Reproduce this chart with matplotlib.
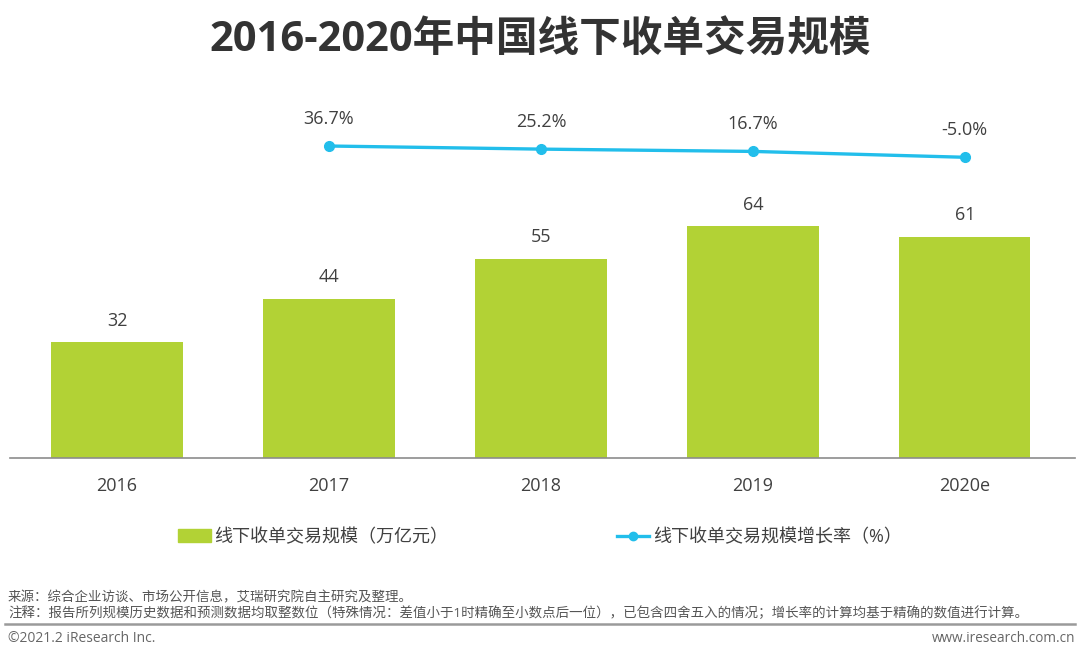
import matplotlib
matplotlib.use("Agg")
import matplotlib.pyplot as plt
from matplotlib.patches import Patch
from matplotlib.lines import Line2D

plt.rcParams['font.family'] = ['Open Sans', 'Noto Sans CJK SC', 'DejaVu Sans']

years = ['2016', '2017', '2018', '2019', '2020e']
scale = [32, 44, 55, 64, 61]            # 万亿元
growth_years = ['2017', '2018', '2019', '2020e']
growth = [36.7, 25.2, 16.7, -5.0]      # %

bar_color = '#B2D235'
line_color = '#22BEEB'
text_color = '#404040'

W, H = 1080, 661
fig = plt.figure(figsize=(W / 100, H / 100), dpi=100)

# main axes in pixel coords
left, right, base, top = 10, 1075, 458, 100
ax = fig.add_axes([left / W, (H - base) / H, (right - left) / W, (base - top) / H])
x = list(range(len(years)))
ax.bar(x, scale, width=0.62, color=bar_color, zorder=2)
for xi, v in zip(x, scale):
    ax.annotate(str(v), (xi, v), xytext=(0, 9), textcoords='offset points',
                ha='center', va='bottom', fontsize=13, color=text_color)
ax.set_xlim(-0.505, 4.52)
ax.set_ylim(0, 98.8)
ax.set_xticks(x)
ax.set_xticklabels(years, fontsize=13, color=text_color)
ax.tick_params(axis='x', length=0, pad=14)
ax.set_yticks([])
for s in ['left', 'right', 'top']:
    ax.spines[s].set_visible(False)
ax.spines['bottom'].set_color('#8c8c8c')
ax.spines['bottom'].set_linewidth(1.2)

# growth line on a compressed secondary axis
ax2 = ax.twinx()
gx = [years.index(y) for y in growth_years]
ax2.plot(gx, growth, color=line_color, lw=2.4, marker='o', ms=7, zorder=3)
for xi, v in zip(gx, growth):
    ax2.annotate(f'{v:.1f}%', (xi, v), xytext=(0, 13), textcoords='offset points',
                 ha='center', va='bottom', fontsize=13, color=text_color)
ax2.set_ylim(-1118, 207)
ax2.axis('off')

# legend
handles = [Patch(color=bar_color),
           Line2D([0], [0], color=line_color, lw=2.4, marker='o', ms=6)]
labels = ['线下收单交易规模（万亿元）', '线下收单交易规模增长率（%）']
leg = fig.legend(handles, labels, loc='center', bbox_to_anchor=(540 / W, (H - 537) / H),
                 ncol=2, frameon=False, fontsize=13, columnspacing=9.3,
                 handlelength=1.8, handletextpad=0.2, labelcolor=text_color)

# title
fig.text(0.5, (H - 41) / H, '2016-2020年中国线下收单交易规模', ha='center', va='center',
         fontsize=30, fontweight='bold', color='#333333')

# footer
fig.text(8 / W, (H - 598) / H, '来源：综合企业访谈、市场公开信息，艾瑞研究院自主研究及整理。',
         fontsize=9.7, color='#555555', va='center', ha='left')
fig.text(8 / W, (H - 613) / H,
         '注释：报告所列规模历史数据和预测数据均取整数位（特殊情况：差值小于1时精确至小数点后一位），已包含四舍五入的情况；增长率的计算均基于精确的数值进行计算。',
         fontsize=9.7, color='#555555', va='center', ha='left')
fig.add_artist(Line2D([5 / W, 1075 / W], [(H - 624) / H] * 2, color='#9a9a9a', lw=1.8))
fig.text(8 / W, (H - 639) / H, '©2021.2 iResearch Inc.', fontsize=10, color='#666666',
         va='center', ha='left')
fig.text(1075 / W, (H - 639) / H, 'www.iresearch.com.cn', fontsize=9.8, color='#666666',
         va='center', ha='right')

fig.savefig('out.png', dpi=100)
